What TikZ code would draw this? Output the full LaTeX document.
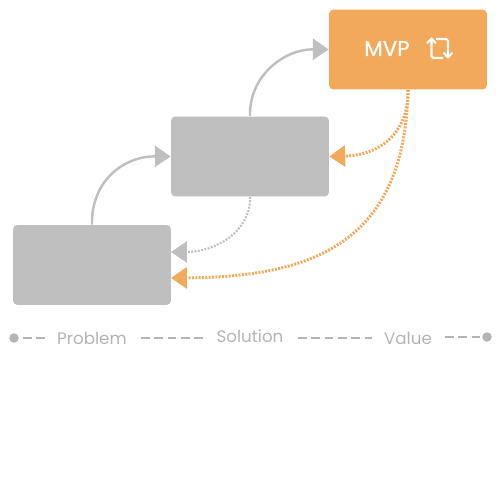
\documentclass[tikz,border=0pt]{standalone}
\usepackage{fontspec}
\setmainfont{Poppins}
\newfontfamily\mvpfont[FakeBold=0.6]{Poppins}
\usetikzlibrary{arrows.meta}
\definecolor{boxgrey}{HTML}{BFBFBF}
\definecolor{mvporange}{HTML}{F2A95C}
\definecolor{labelgrey}{HTML}{B4B4B4}
\tikzset{
  stage/.style={fill=boxgrey,rounded corners=2.5pt,minimum width=3.16cm,minimum height=1.6cm,inner sep=0pt},
  flow/.style={line width=1.4pt,-{Triangle[length=9pt,width=12pt]}},
  back/.style={dash pattern=on 1.1pt off 0.8pt,-{Triangle[length=9pt,width=12pt]}},
  axis/.style={labelgrey,line width=1pt,dash pattern=on 5pt off 2.6pt},
  axislabel/.style={text=labelgrey,font=\fontsize{9.5}{12}\selectfont,inner sep=0pt},
  axisend/.style={circle,fill=labelgrey,minimum size=5.4pt,inner sep=0pt},
}
\begin{document}
\begin{tikzpicture}[x=0.02cm,y=-0.02cm]
    \useasboundingbox (0,0) rectangle (500,500);
    \node[stage,fill=mvporange] (mvp) at (408,49.5) {};
    \node[stage] (mid) at (250,156.5) {};
    \node[stage] (low) at (92,265) {};
    \node[text=white,font=\fontsize{12.2}{12}\mvpfont,inner sep=0pt] (mvptext) at (387,48.5) {MVP};
    % loop icon
    \draw[white,line width=1.2pt,line join=round] (427,43.5) -- (431.5,38.5) -- (436,43.5);
    \draw[white,line width=1.2pt,rounded corners=1pt] (431.5,39) -- (431.5,58) -- (443,58);
    \draw[white,line width=1.2pt,rounded corners=1pt] (436,39) -- (448,39) -- (448,57.5);
    \draw[white,line width=1.2pt,line join=round] (443.5,52.5) -- (448,57.5) -- (452.5,52.5);
    % forward arrows
    \draw[flow,boxgrey] (low.north) .. controls (91,180) and (125,156) .. (mid.west);
    \draw[flow,boxgrey] (mid.north) .. controls (249,75) and (285,49) .. (mvp.west);
    % arrows back
    \coordinate (lowgrey) at (171,252);
    \coordinate (loworange) at (171,278);
    \draw[back,boxgrey,line width=1.2pt] (mid.south) .. controls (251,232) and (215,252) .. (lowgrey);
    \draw[back,mvporange,line width=1.7pt] (mvp.south) .. controls (409,128) and (385,155) .. (mid.east);
    \draw[back,mvporange,line width=1.7pt] (mvp.south) .. controls (405,245) and (310,277) .. (loworange);
    % axis
    \node[axislabel] (problem) at (92,338) {Problem};
    \node[axislabel] (solution) at (250,336) {Solution};
    \node[axislabel] (value) at (408,338) {Value};
    \node[axisend] (start) at (14,338) {};
    \node[axisend] (end) at (487,337) {};
    \draw[axis] (23,338) -- (47,338);
    \draw[axis] (141,338) -- (203,338);
    \draw[axis] (298,338) -- (372,338);
    \draw[axis] (445,337) -- (end.west);
\end{tikzpicture}
\end{document}
